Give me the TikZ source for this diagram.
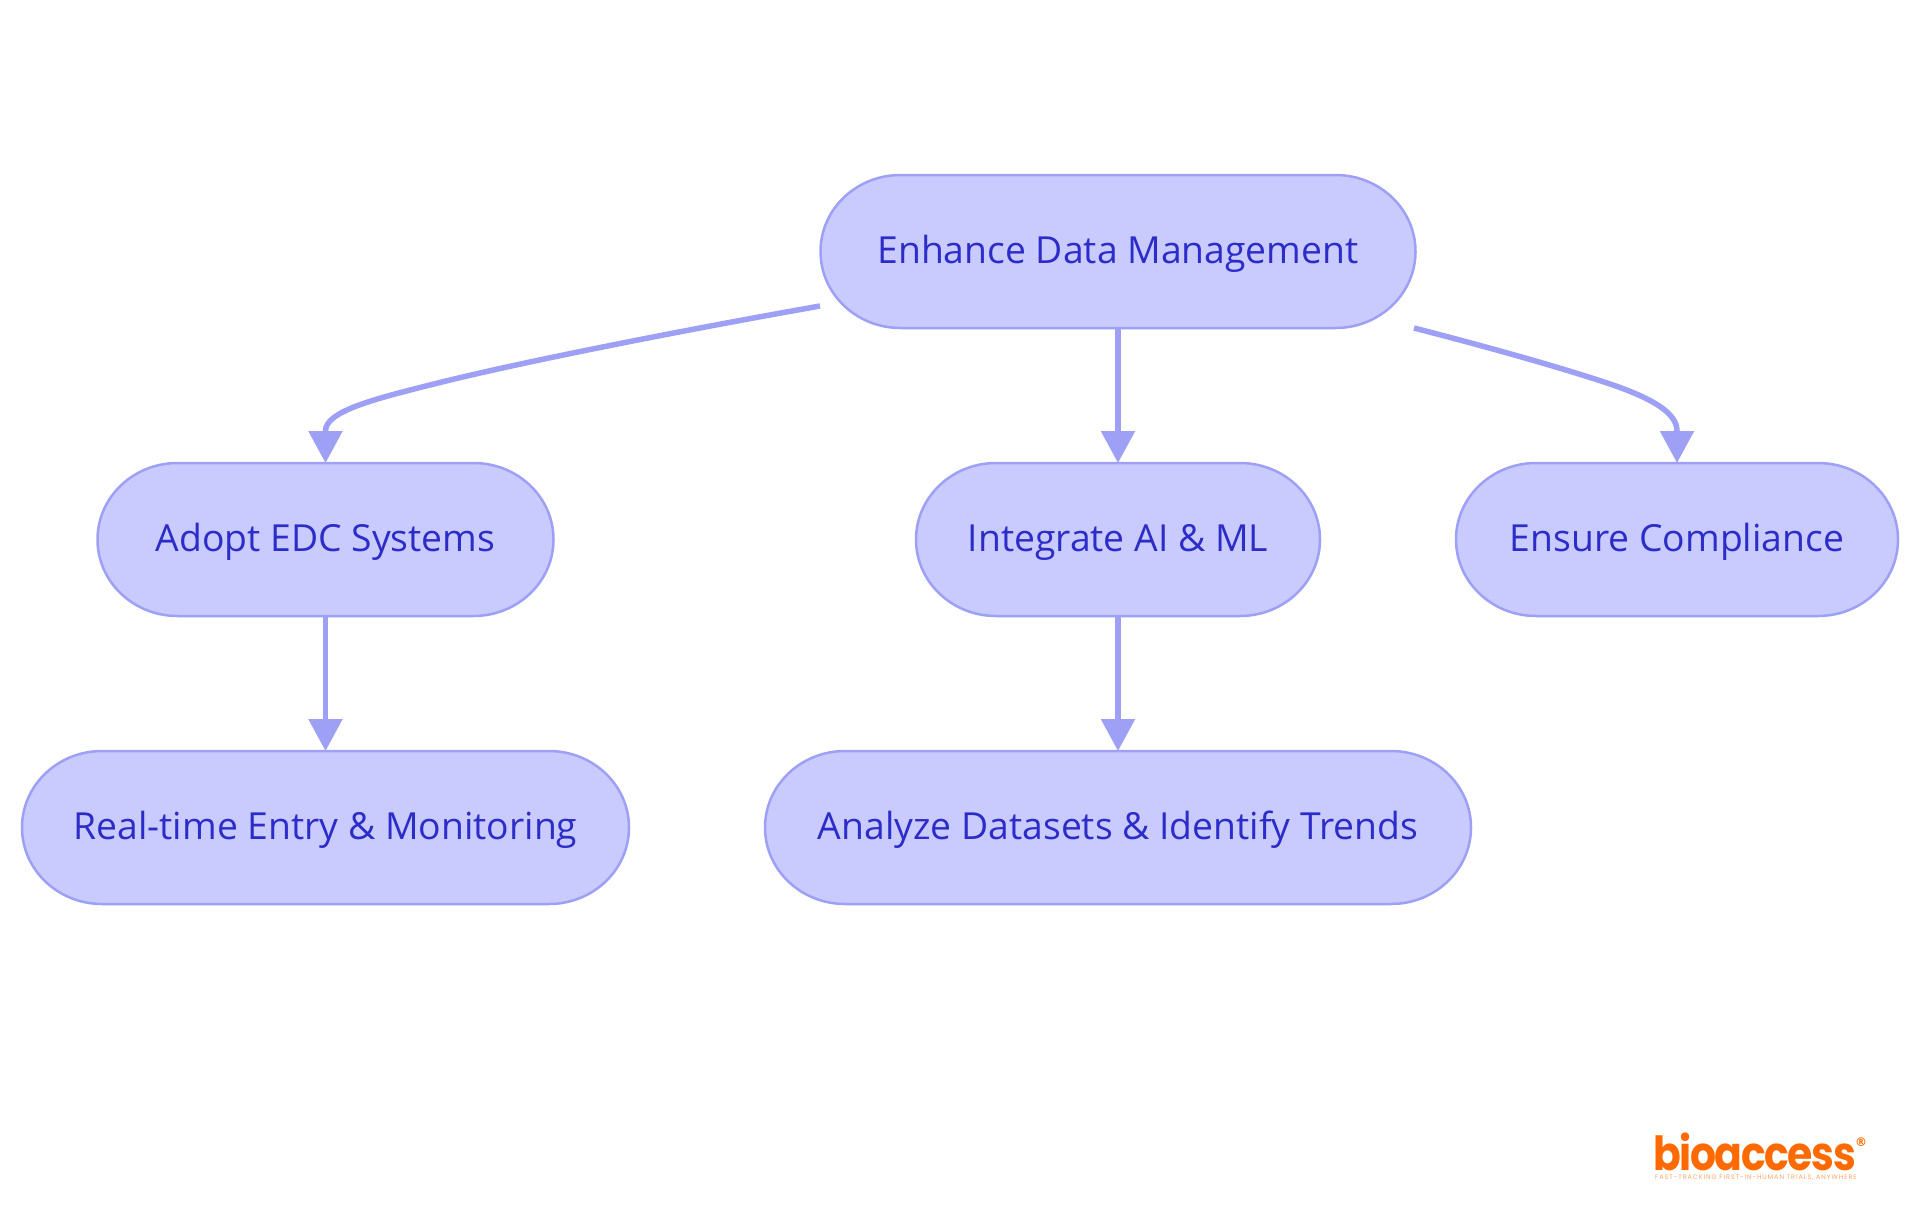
\documentclass[tikz,border=0pt]{standalone}
\usepackage{fontspec}
\setmainfont{Open Sans}
\newfontfamily\logofont{Poppins}[FakeStretch=0.87,LetterSpace=-3]
\newfontfamily\regfont{DejaVu Sans}
\newfontfamily\tagfont{Poppins}[LetterSpace=14]
\usetikzlibrary{arrows.meta,calc}
\definecolor{nodefill}{HTML}{C9CBFF}
\definecolor{nodeline}{HTML}{9DA0F5}
\definecolor{nodetext}{HTML}{2C2CC8}
\definecolor{logoorange}{HTML}{FF6A00}
\tikzset{
  pillshape/.style={draw=nodeline,fill=nodefill,line width=2.5pt},
  pill/.style={rectangle,text=nodetext,font=\fontsize{37.3}{40}\selectfont,minimum height=153pt,inner sep=0pt,outer sep=0pt,
    text height=30.5pt,text depth=6pt},
  link/.style={draw=nodeline,line width=5.5pt,-{Triangle[length=32pt,width=33pt,fill=nodeline]}},
  logotext/.style={inner sep=0pt,text=logoorange},
}
% name, centre x, centre y, width, text
\newcommand{\pillnode}[5]{%
  \draw[pillshape] (#2-#4/2+80,#3-76.5) -- (#2+#4/2-80,#3-76.5)
    arc[start angle=90,end angle=-90,x radius=80pt,y radius=76.5pt]
    -- (#2-#4/2+80,#3+76.5)
    arc[start angle=270,end angle=90,x radius=80pt,y radius=76.5pt] -- cycle;
  \node[pill,minimum width=#4 pt] (#1) at (#2,#3) {#5};}
\begin{document}
\begin{tikzpicture}[x=1pt,y=-1pt]
\useasboundingbox (0,0) rectangle (1920,1215);
\pillnode{root}{1118}{251.5}{595}{Enhance Data Management}
\pillnode{adopt}{325.5}{539.5}{456}{Adopt EDC Systems}
\pillnode{integrate}{1118}{539.5}{404}{Integrate AI \& ML}
\pillnode{ensure}{1677}{539.5}{442}{Ensure Compliance}
\pillnode{realtime}{325.5}{827.5}{607}{Real-time Entry \& Monitoring}
\pillnode{analyze}{1118}{827.5}{706}{Analyze Datasets \& Identify Trends}
\coordinate (rl) at (820,306);
\coordinate (rr) at (1414,328);
\draw[link] (rl) .. controls (690,329) and (520,362) .. (430,385)
  .. controls (370,400) and (325.5,412) .. (325.5,431) -- (adopt.north);
\draw[link] (root.south) -- (integrate.north);
\draw[link] (rr) .. controls (1480,345) and (1560,367) .. (1613,385)
  .. controls (1650,398) and (1677,412) .. (1677,431) -- (ensure.north);
\draw[link] (adopt.south) -- (realtime.north);
\draw[link] (integrate.south) -- (analyze.north);
\node[logotext,anchor=base west,font=\logofont\bfseries\fontsize{47}{47}\selectfont] (logo) at (1653,1170) {bioaccess};
\node[logotext,anchor=center,font=\regfont\bfseries\fontsize{12}{12}\selectfont] (reg) at (1861,1142) {®};
\node[logotext,text=logoorange!60,anchor=base west,font=\tagfont\fontsize{6.5}{7}\selectfont] (tag) at (1655,1179) {FAST-TRACKING FIRST-IN-HUMAN TRIALS, ANYWHERE};
\end{tikzpicture}
\end{document}
